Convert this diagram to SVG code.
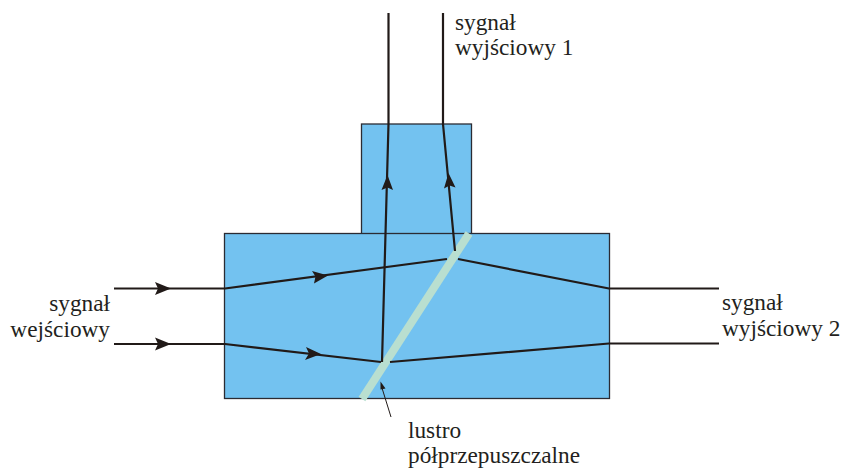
<svg xmlns="http://www.w3.org/2000/svg" width="845" height="468" viewBox="0 0 845 468">
<style>
.box{fill:#73c2f0;stroke:#2b2b33;stroke-width:1.3}
.ray{fill:none;stroke:#211a18;stroke-width:2.2;stroke-linejoin:round}
.head{fill:#211a18}
text{font-family:"Liberation Serif",serif;font-size:23.3px;fill:#231f20}
</style>
<g id="chamber-top"><rect class="box" x="361.500" y="124" width="110" height="110"/></g>
<g id="chamber-main"><rect class="box" x="224.500" y="233.500" width="385" height="165"/></g>
<g id="mirror"><line x1="469" y1="233.500" x2="362" y2="399" stroke="#b9dfd0" stroke-width="8"/></g>
<g id="connectors">
<polyline class="ray" points="114,288.500 225,288.500 447,259"/>
<polyline class="ray" points="114,344 225,344 381,362"/>
<polyline class="ray" points="458,259 609,288.500 719,288.500"/>
<polyline class="ray" points="390,362 609,343.500 719,343.500"/>
<polyline class="ray" points="382,362 388.500,124 388.500,13"/>
<polyline class="ray" points="455,251 443,124 443,13"/>
<path class="head" d="M155,282 L171,288.500 L155,295 L158,288.500Z"/>
<path class="head" d="M155,337.500 L171,344 L155,350.500 L158,344Z"/>
<path class="head" d="M312,271 L328,275.500 L314,283.500 L315.500,276.500Z"/>
<path class="head" d="M306,347 L321,354 L305,360 L309,353.500Z"/>
<path class="head" d="M381.500,190 L387.500,175 L393,190 L387.500,187.500Z"/>
<path class="head" d="M444,188.500 L448.500,173 L455.500,187.500 L449.500,185.500Z"/>
<line x1="391" y1="417" x2="382" y2="388" stroke="#211a18" stroke-width="1"/>
<path class="head" d="M380.500,381.500 L385.500,388.500 L380.500,389.500Z"/>
</g>
<g id="label-input"><text x="110" y="311" text-anchor="end">sygnał</text><text x="110" y="337" text-anchor="end">wejściowy</text></g>
<g id="label-output1"><text x="455" y="30">sygnał</text><text x="455" y="55">wyjściowy 1</text></g>
<g id="label-output2"><text x="722" y="310">sygnał</text><text x="722" y="336">wyjściowy 2</text></g>
<g id="label-mirror"><text x="408" y="438">lustro</text><text x="408" y="463">półprzepuszczalne</text></g>
</svg>
